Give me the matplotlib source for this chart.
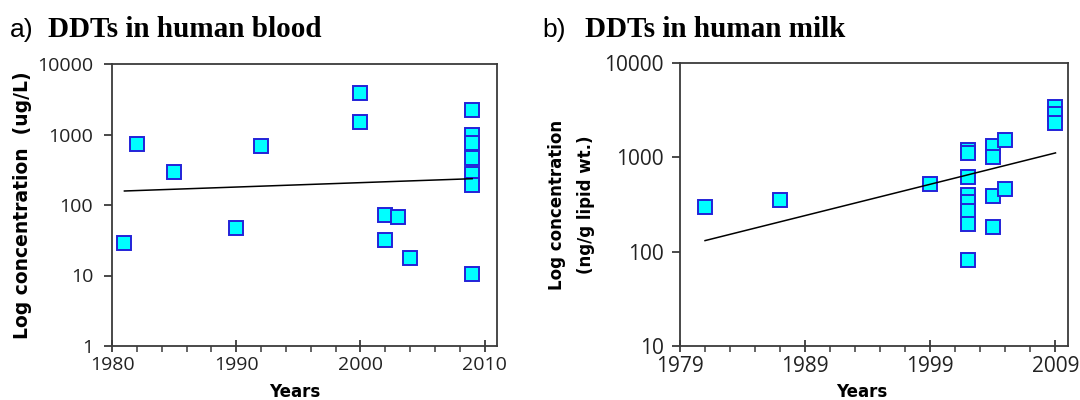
import matplotlib.pyplot as plt
from matplotlib.ticker import FixedLocator, FixedFormatter, NullLocator

# a) DDTs in human blood (ug/L)
blood_years = [1981, 1982, 1985, 1990, 1992, 2000, 2000, 2002, 2002, 2003, 2004,
               2009, 2009, 2009, 2009, 2009, 2009, 2009]
blood_conc = [29, 738, 293, 47, 676, 3846, 1528, 71, 32, 68, 18,
              2190, 1000, 750, 470, 275, 195, 10.4]
blood_trend_years = [1981, 2009]
blood_trend_conc = [158, 236]

# b) DDTs in human milk (ng/g lipid wt.)
milk_years = [1981, 1987, 1999,
              2002, 2002, 2002, 2002, 2002, 2002, 2002, 2002,
              2004, 2004, 2004, 2004, 2005, 2005, 2009, 2009, 2009]
milk_conc = [295, 353, 516,
             1200, 1115, 612, 399, 334, 273, 197, 81,
             1320, 1010, 386, 181, 1517, 462, 3410, 2850, 2330]
milk_trend_years = [1981, 2009]
milk_trend_conc = [131, 1114]

blood_xticks = [1980, 1990, 2000, 2010]
milk_xticks = [1979, 1989, 1999, 2009]
blood_yticks = [1, 10, 100, 1000, 10000]
milk_yticks = [10, 100, 1000, 10000]

W, H = 1080, 400
fig = plt.figure(figsize=(W / 100, H / 100), dpi=100)

def box(l, r, t, b):
    return [l / W, 1 - b / H, (r - l) / W, (b - t) / H]

ax_a = fig.add_axes(box(112, 497, 64, 346))
ax_b = fig.add_axes(box(680, 1068, 63, 346))

spine_col = '#3a3a3a'
tick_font = 'Open Sans'

def style(ax, years, conc, t_years, t_conc, xlim, xticks, ylim, yticks, fs, ypad):
    ax.plot(years, conc, linestyle='none', marker='s', markersize=9.5,
            markerfacecolor='#00ffff', markeredgecolor='#2323d8',
            markeredgewidth=1.4, zorder=3)
    ax.plot(t_years, t_conc, color='black', lw=1.1, zorder=4)
    ax.set_yscale('log')
    ax.set_xlim(*xlim)
    ax.set_ylim(*ylim)
    ax.xaxis.set_major_locator(FixedLocator(xticks))
    ax.xaxis.set_minor_locator(FixedLocator(list(range(xlim[0], xlim[1], 2))))
    ax.yaxis.set_major_locator(FixedLocator(yticks))
    ax.yaxis.set_major_formatter(FixedFormatter([str(v) for v in yticks]))
    ax.yaxis.set_minor_locator(NullLocator())
    for s in ax.spines.values():
        s.set_color(spine_col)
        s.set_linewidth(1.3)
    ax.tick_params(axis='x', which='major', direction='inout', length=8.6,
                   width=1.3, color=spine_col, pad=3)
    ax.tick_params(axis='x', which='minor', direction='out', length=4.3,
                   width=1.1, color=spine_col)
    ax.tick_params(axis='y', which='major', direction='out', length=5.6,
                   width=1.3, color=spine_col, pad=ypad)
    for lab in ax.get_xticklabels() + ax.get_yticklabels():
        lab.set_fontfamily(tick_font)
        lab.set_fontsize(fs)
        lab.set_color('#222222')

style(ax_a, blood_years, blood_conc, blood_trend_years, blood_trend_conc,
      (1980, 2011), blood_xticks, (1, 10000), blood_yticks, 14, 8)
style(ax_b, milk_years, milk_conc, milk_trend_years, milk_trend_conc,
      (1979, 2010), milk_xticks, (10, 10000), milk_yticks, 15, 6.2)

lab_kw = dict(fontfamily='DejaVu Sans', fontweight='bold')
ax_a.set_ylabel('Log concentration  (ug/L)', fontsize=13.5, **lab_kw)
ax_a.yaxis.set_label_coords(-0.208, 0.5)
ax_b.set_ylabel('Log concentration\n(ng/g lipid wt.)', linespacing=1.8,
                fontsize=12, **lab_kw)
ax_b.yaxis.set_label_coords(-0.219, 0.5)

ax_a.set_xlabel('Years', va='top', fontsize=12, **lab_kw)
ax_a.xaxis.set_label_coords(0.475, -0.13)
ax_b.set_xlabel('Years', va='top', fontsize=12, **lab_kw)
ax_b.xaxis.set_label_coords(0.469, -0.13)

# panel titles
fig.text(10 / W, 1 - 37 / H, 'a)', fontfamily='Liberation Sans', fontsize=19,
         va='baseline', ha='left')
fig.text(48 / W, 1 - 37 / H, 'DDTs in human blood', fontfamily='Liberation Serif',
         fontweight='bold', fontsize=21, va='baseline', ha='left')
fig.text(542 / W, 1 - 37 / H, 'b)', fontfamily='Liberation Sans', fontsize=19,
         va='baseline', ha='left')
fig.text(585 / W, 1 - 37 / H, 'DDTs in human milk', fontfamily='Liberation Serif',
         fontweight='bold', fontsize=21, va='baseline', ha='left')

fig.savefig('out.png', dpi=100)
